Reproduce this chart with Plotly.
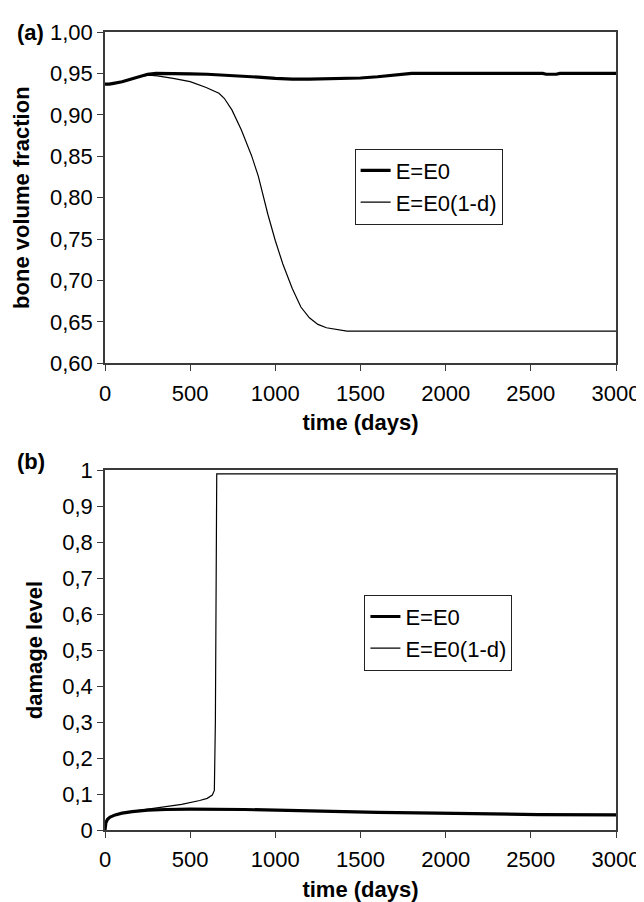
import plotly.graph_objects as go

# ---------------- data ----------------
# (a) bone volume fraction
t_a_e0 = [0, 25, 50, 100, 150, 200, 250, 300, 400, 500, 600, 700, 800, 900, 1000,
          1100, 1200, 1300, 1400, 1500, 1600, 1700, 1760, 1800, 2000, 2200, 2500,
          2570, 2590, 2650, 2670, 2800, 3000]
v_a_e0 = [0.937, 0.937, 0.938, 0.940, 0.943, 0.946, 0.949, 0.950, 0.950, 0.9495,
          0.949, 0.948, 0.947, 0.9455, 0.944, 0.943, 0.943, 0.9432, 0.944, 0.9445,
          0.946, 0.948, 0.950, 0.950, 0.950, 0.950, 0.950, 0.950, 0.949, 0.949,
          0.950, 0.950, 0.950]

t_a_d = [0, 25, 50, 100, 150, 200, 260, 307, 400, 500, 594, 669, 700, 745, 800,
         860, 900, 956, 1000, 1044, 1100, 1150, 1200, 1250, 1300, 1350, 1420,
         2000, 3000]
v_a_d = [0.937, 0.937, 0.938, 0.940, 0.943, 0.946, 0.948, 0.947, 0.944, 0.940,
         0.933, 0.926, 0.920, 0.906, 0.882, 0.851, 0.826, 0.780, 0.748, 0.720,
         0.690, 0.668, 0.655, 0.647, 0.643, 0.641, 0.639, 0.639, 0.639]

# (b) damage level
t_b_e0 = [0, 5, 15, 30, 60, 100, 160, 250, 358, 500, 815, 1000, 1350, 1600, 1947,
          2200, 2543, 3000]
v_b_e0 = [0, 0.020, 0.030, 0.036, 0.042, 0.047, 0.051, 0.055, 0.057, 0.058, 0.057,
          0.055, 0.052, 0.049, 0.047, 0.045, 0.043, 0.042]

t_b_d = [0, 5, 15, 30, 60, 100, 160, 250, 358, 450, 556, 600, 630, 642, 648, 652,
         656, 700, 1000, 3000]
v_b_d = [0, 0.020, 0.030, 0.036, 0.042, 0.047, 0.052, 0.058, 0.064, 0.071, 0.082,
         0.088, 0.097, 0.110, 0.30, 0.80, 0.99, 0.99, 0.99, 0.99]

series_names = ["E=E0", "E=E0(1-d)"]
x_title = "time (days)"
y_title_a = "bone volume fraction"
y_title_b = "damage level"
panel_labels = ["(a)", "(b)"]

# ---------------- layout helpers ----------------
W, H = 644, 902
ML, MR, MT, MB = 97, 25, 14, 74
PW, PH = W - ML - MR, H - MT - MB


def px_x(x):
    return (x - ML) / PW


def px_y(y):
    return (H - MB - y) / PH


FONT = "Liberation Sans, Arial, sans-serif"
AX = "#3a3a3a"

fig = go.Figure()
fig.add_trace(go.Scatter(x=t_a_e0, y=v_a_e0, mode="lines", name=series_names[0],
                         line=dict(color="black", width=3.2), xaxis="x", yaxis="y",
                         legend="legend"))
fig.add_trace(go.Scatter(x=t_a_d, y=v_a_d, mode="lines", name=series_names[1],
                         line=dict(color="black", width=1.2), xaxis="x", yaxis="y",
                         legend="legend"))
fig.add_trace(go.Scatter(x=t_b_e0, y=v_b_e0, mode="lines", name=series_names[0],
                         line=dict(color="black", width=3.2), xaxis="x2", yaxis="y2",
                         legend="legend2"))
fig.add_trace(go.Scatter(x=t_b_d, y=v_b_d, mode="lines", name=series_names[1],
                         line=dict(color="black", width=1.2), xaxis="x2", yaxis="y2",
                         legend="legend2"))

common_x = dict(range=[0, 3000], tickvals=[0, 500, 1000, 1500, 2000, 2500, 3000],
                showgrid=False, zeroline=False, showline=True, linecolor=AX,
                linewidth=1.5, mirror=True, ticks="outside", ticklen=6,
                ticklabelstandoff=3,
                tickcolor=AX, tickfont=dict(size=22, color="black"),
                title=dict(text="<b>" + x_title + "</b>", font=dict(size=22, color="black"),
                           standoff=10))
common_y = dict(showgrid=False, zeroline=False, showline=True, linecolor=AX,
                linewidth=1.5, mirror=True, ticks="outside", ticklen=6, tickcolor=AX,
                tickfont=dict(size=22, color="black"))

top_lo = px_y(352)
bot_hi = px_y(461)

fig.update_layout(
    width=W, height=H,
    margin=dict(l=ML, r=MR, t=MT, b=MB),
    paper_bgcolor="white", plot_bgcolor="white",
    font=dict(family=FONT, color="black"),
    separators=", ",
    xaxis=dict(domain=[0, 1], anchor="y", **common_x),
    yaxis=dict(domain=[top_lo, 1], anchor="x", range=[0.6, 1.0], dtick=0.05,
               tick0=0.6, tickformat=".2f",
               title=dict(text="<b>" + y_title_a + "</b>", font=dict(size=22, color="black"),
                          standoff=14),
               **common_y),
    xaxis2=dict(domain=[0, 1], anchor="y2", **common_x),
    yaxis2=dict(domain=[0, bot_hi], anchor="x2", range=[0, 1], dtick=0.1, tick0=0,
                title=dict(text="<b>" + y_title_b + "</b>", font=dict(size=22, color="black"),
                           standoff=14),
                **common_y),
    legend=dict(x=px_x(352), y=px_y(133), xanchor="left", yanchor="top",
                bordercolor="#222", borderwidth=1, bgcolor="white",
                font=dict(size=22, color="black"), tracegroupgap=0),
    legend2=dict(x=px_x(362), y=px_y(588), xanchor="left", yanchor="top",
                 bordercolor="#222", borderwidth=1, bgcolor="white",
                 font=dict(size=22, color="black"), tracegroupgap=0),
    showlegend=True,
    annotations=[
        dict(text="<b>" + panel_labels[0] + "</b>", xref="paper", yref="paper",
             x=px_x(5), y=px_y(15), xanchor="left", yanchor="middle",
             showarrow=False, font=dict(size=22, color="black")),
        dict(text="<b>" + panel_labels[1] + "</b>", xref="paper", yref="paper",
             x=px_x(5), y=px_y(452), xanchor="left", yanchor="middle",
             showarrow=False, font=dict(size=22, color="black")),
    ],
)

fig.write_html("out.html")
